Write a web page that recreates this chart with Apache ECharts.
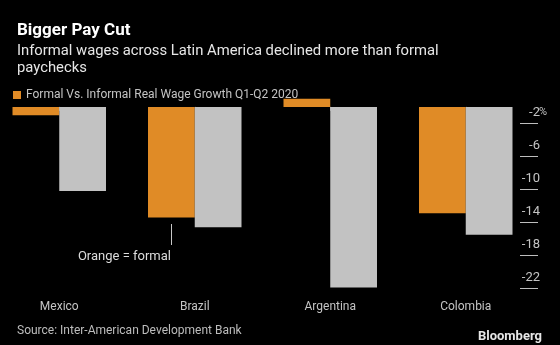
<!DOCTYPE html>
<html>
<head>
<meta charset="utf-8">
<script src="https://cdn.jsdelivr.net/npm/echarts@6/dist/echarts.min.js"></script>
<style>
  html, body { margin: 0; padding: 0; background: #000; }
  #chart { width: 560px; height: 345px; }
</style>
</head>
<body>
<div id="chart"></div>
<script>
// Real wage growth, Q1-Q2 2020 (%)
const countries = ['Mexico', 'Brazil', 'Argentina', 'Colombia'];
const formalWages = [-1.0, -13.4, 1.0, -12.9];
const informalWages = [-10.2, -14.6, -21.9, -15.5];
const yTickValues = [-2, -6, -10, -14, -18, -22];

const FONT = 'Roboto, "Noto Sans", sans-serif';
const ORANGE = '#e08b26';
const GREY = '#c2c2c2';

const chart = echarts.init(document.getElementById('chart'), null, { renderer: 'canvas' });

chart.setOption({
  backgroundColor: '#000',
  animation: false,
  textStyle: { fontFamily: FONT },
  title: [
    {
      text: 'Bigger Pay Cut',
      left: 12, top: 17,
      textStyle: { color: '#fff', fontSize: 17, fontWeight: 'bold', fontFamily: FONT }
    },
    {
      text: 'Informal wages across Latin America declined more than formal\npaychecks',
      left: 12, top: 38,
      textStyle: { color: '#e6e6e6', fontSize: 14.8, fontWeight: 'normal', lineHeight: 17, fontFamily: FONT }
    },
    {
      text: 'Source: Inter-American Development Bank',
      left: 12, top: 320,
      textStyle: { color: '#bdbdbd', fontSize: 12, fontWeight: 'normal', fontFamily: FONT }
    },
    {
      text: 'Bloomberg',
      right: 13, top: 325,
      textStyle: { color: '#e6e6e6', fontSize: 13, fontWeight: 'bold', fontFamily: FONT }
    }
  ],
  legend: {
    data: ['Formal Vs. Informal Real Wage Growth Q1-Q2 2020'],
    left: 8, top: 84,
    icon: 'rect',
    itemWidth: 8, itemHeight: 8, itemGap: 6,
    textStyle: { color: '#c4c4c4', fontSize: 12, fontFamily: FONT },
    selectedMode: false
  },
  grid: {
    left: -8.5, width: 542, top: 97, height: 193,
    containLabel: false,
    outerBoundsMode: 'none'
  },
  xAxis: {
    type: 'category',
    data: countries,
    axisLine: { show: false },
    axisTick: { show: true, alignWithLabel: true, length: 4, lineStyle: { color: '#9a9a9a' } },
    axisLabel: { color: '#c4c4c4', fontSize: 12, margin: 11, fontFamily: FONT }
  },
  yAxis: {
    type: 'value',
    position: 'right',
    offset: -13.5,
    min: -22.2,
    max: 1.2,
    splitLine: { show: false },
    axisLine: { show: false },
    axisTick: {
      show: true, length: 18, customValues: yTickValues,
      lineStyle: { color: '#bdbdbd' }
    },
    axisLabel: {
      customValues: yTickValues,
      align: 'right',
      margin: 27,
      padding: [0, 0, 22, 0],
      color: '#c4c4c4',
      fontSize: 13,
      fontFamily: FONT,
      formatter: v => v === -2 ? '-2{p|%}' : v + '{e|}',
      rich: {
        p: { color: '#c4c4c4', fontSize: 11, width: 7, fontFamily: FONT },
        e: { width: 7 }
      }
    }
  },
  series: [
    {
      name: 'Formal Vs. Informal Real Wage Growth Q1-Q2 2020',
      type: 'bar',
      data: formalWages,
      itemStyle: { color: ORANGE },
      barGap: '0%',
      barCategoryGap: '31%'
    },
    {
      name: 'Informal',
      type: 'bar',
      data: informalWages,
      itemStyle: { color: GREY },
      barGap: '0%',
      barCategoryGap: '31%'
    }
  ],
  graphic: [
    {
      type: 'line',
      shape: { x1: 171.5, y1: 224, x2: 171.5, y2: 245 },
      style: { stroke: '#c8c8c8', lineWidth: 1 }
    },
    {
      type: 'text',
      x: 171, y: 257,
      style: {
        text: 'Orange = formal',
        fill: '#dcdcdc',
        font: '13px ' + FONT,
        textAlign: 'right',
        textVerticalAlign: 'middle'
      }
    }
  ]
});
</script>
</body>
</html>
